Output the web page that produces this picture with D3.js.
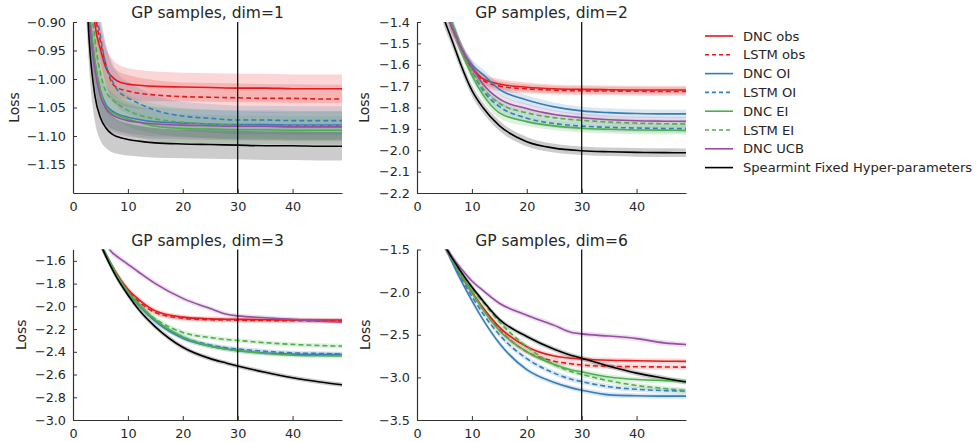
<!DOCTYPE html>
<html><head><meta charset="utf-8">
<script src="https://cdn.jsdelivr.net/npm/d3@7"></script>
<style>
body{margin:0;background:#fff;}
text{font-family:"DejaVu Sans",sans-serif;}
</style></head>
<body><svg id="chart" width="976" height="442"></svg>
<script>
// ---------- data ----------
const seriesNames = ["DNC obs","LSTM obs","DNC OI","LSTM OI","DNC EI","LSTM EI","DNC UCB","Spearmint Fixed Hyper-parameters"];
const seriesColors = ["#e41a1c","#e41a1c","#377eb8","#377eb8","#4daf4a","#4daf4a","#984ea3","#000000"];
const seriesDashed = [false,true,false,true,false,true,false,false];
const panelTitles = ["GP samples, dim=1","GP samples, dim=2","GP samples, dim=3","GP samples, dim=6"];
const xTicks = [0,10,20,30,40];
const yTicks1 = [-0.90,-0.95,-1.00,-1.05,-1.10,-1.15];
const yTicks2 = [-1.4,-1.5,-1.6,-1.7,-1.8,-1.9,-2.0,-2.1,-2.2];
const yTicks3 = [-1.6,-1.8,-2.0,-2.2,-2.4,-2.6,-2.8,-3.0];
const yTicks4 = [-1.5,-2.0,-2.5,-3.0,-3.5];
const cutoffX = 30;

// dim=1
const xs1 = [2,3,4,5,6,7,8,10,12,15,20,25,30,35,40,45,49];
const d1_dncObs   = [-0.60,-0.80,-0.905,-0.948,-0.981,-0.995,-1.003,-1.009,-1.011,-1.013,-1.014,-1.015,-1.016,-1.016,-1.017,-1.017,-1.017];
const d1_lstmObs  = [-0.55,-0.75,-0.88,-0.935,-0.975,-1.005,-1.015,-1.021,-1.025,-1.028,-1.031,-1.032,-1.033,-1.034,-1.034,-1.035,-1.035];
const d1_dncOI    = [-0.70,-0.88,-0.97,-1.02,-1.045,-1.055,-1.061,-1.067,-1.071,-1.075,-1.077,-1.079,-1.080,-1.080,-1.081,-1.081,-1.081];
const d1_lstmOI   = [-0.50,-0.70,-0.86,-0.925,-0.975,-1.000,-1.018,-1.033,-1.043,-1.055,-1.065,-1.069,-1.072,-1.072,-1.073,-1.073,-1.073];
const d1_dncEI    = [-0.70,-0.88,-0.97,-1.02,-1.050,-1.058,-1.063,-1.070,-1.076,-1.083,-1.087,-1.088,-1.089,-1.089,-1.090,-1.090,-1.090];
const d1_lstmEI   = [-0.65,-0.83,-0.93,-0.99,-1.022,-1.035,-1.043,-1.055,-1.063,-1.070,-1.076,-1.079,-1.081,-1.082,-1.082,-1.082,-1.082];
const d1_dncUCB   = [-0.72,-0.90,-0.985,-1.030,-1.052,-1.062,-1.067,-1.073,-1.076,-1.079,-1.081,-1.082,-1.083,-1.083,-1.084,-1.084,-1.084];
const d1_spear    = [-0.75,-0.94,-1.030,-1.068,-1.086,-1.096,-1.101,-1.106,-1.109,-1.112,-1.114,-1.115,-1.116,-1.117,-1.117,-1.118,-1.118];
const band1       = [0.06,0.05,0.045,0.04,0.035,0.032,0.03,0.028,0.027,0.026,0.025,0.025,0.025,0.025,0.025,0.025,0.025];

// dim=2
const xs2 = [4,5,6,7,8,10,12,15,20,25,30,35,40,45,49];
const d2_dncObs   = [-1.20,-1.30,-1.395,-1.46,-1.52,-1.61,-1.665,-1.69,-1.705,-1.712,-1.715,-1.717,-1.718,-1.718,-1.718];
const d2_lstmObs  = [-1.20,-1.30,-1.40,-1.465,-1.525,-1.615,-1.672,-1.700,-1.713,-1.719,-1.722,-1.723,-1.724,-1.725,-1.725];
const d2_dncOI    = [-1.22,-1.31,-1.40,-1.46,-1.52,-1.60,-1.645,-1.715,-1.765,-1.797,-1.816,-1.824,-1.828,-1.830,-1.830];
const d2_lstmOI   = [-1.18,-1.28,-1.38,-1.45,-1.52,-1.63,-1.72,-1.795,-1.85,-1.875,-1.887,-1.893,-1.896,-1.898,-1.899];
const d2_dncEI    = [-1.18,-1.28,-1.38,-1.455,-1.53,-1.65,-1.74,-1.825,-1.866,-1.886,-1.897,-1.902,-1.905,-1.906,-1.907];
const d2_lstmEI   = [-1.18,-1.28,-1.38,-1.45,-1.52,-1.63,-1.71,-1.78,-1.825,-1.848,-1.860,-1.868,-1.873,-1.876,-1.877];
const d2_dncUCB   = [-1.22,-1.31,-1.40,-1.46,-1.52,-1.61,-1.69,-1.76,-1.805,-1.833,-1.848,-1.857,-1.862,-1.864,-1.865];
const d2_spear    = [-1.30,-1.39,-1.46,-1.53,-1.60,-1.72,-1.80,-1.885,-1.96,-1.99,-2.002,-2.007,-2.010,-2.011,-2.012];
const band2       = [0.04,0.035,0.032,0.03,0.028,0.026,0.025,0.024,0.022,0.02,0.02,0.02,0.02,0.02,0.02];

// dim=3
const xs3 = [4,5,6,7,8,10,12,15,20,25,28,30,35,40,45,49];
const d3_dncObs   = [-1.33,-1.45,-1.55,-1.64,-1.72,-1.85,-1.94,-2.04,-2.095,-2.11,-2.113,-2.115,-2.118,-2.12,-2.12,-2.12];
const d3_lstmObs  = [-1.33,-1.45,-1.55,-1.64,-1.72,-1.86,-1.96,-2.055,-2.105,-2.118,-2.12,-2.122,-2.125,-2.127,-2.128,-2.13];
const d3_dncOI    = [-1.33,-1.45,-1.55,-1.645,-1.73,-1.88,-1.99,-2.13,-2.28,-2.35,-2.375,-2.39,-2.41,-2.42,-2.425,-2.425];
const d3_lstmOI   = [-1.33,-1.45,-1.55,-1.645,-1.73,-1.88,-1.99,-2.13,-2.27,-2.34,-2.365,-2.375,-2.395,-2.41,-2.415,-2.42];
const d3_dncEI    = [-1.33,-1.45,-1.55,-1.64,-1.725,-1.87,-1.98,-2.12,-2.27,-2.35,-2.378,-2.39,-2.415,-2.43,-2.435,-2.437];
const d3_lstmEI   = [-1.33,-1.45,-1.55,-1.64,-1.73,-1.87,-1.99,-2.11,-2.23,-2.275,-2.292,-2.30,-2.32,-2.335,-2.345,-2.35];
const d3_dncUCB   = [-1.30,-1.38,-1.45,-1.52,-1.56,-1.63,-1.70,-1.80,-1.93,-2.02,-2.07,-2.084,-2.10,-2.115,-2.13,-2.14];
const d3_spear    = [-1.33,-1.45,-1.56,-1.66,-1.75,-1.90,-2.03,-2.18,-2.36,-2.46,-2.50,-2.525,-2.58,-2.628,-2.665,-2.69];
const band3       = [0.04,0.035,0.03,0.03,0.028,0.025,0.025,0.024,0.022,0.02,0.02,0.02,0.02,0.02,0.02,0.02];

// dim=6
const xs4 = [4,5,6,7,8,10,12,15,20,25,28,30,35,40,45,49];
const d4_dncObs   = [-1.33,-1.45,-1.57,-1.69,-1.80,-2.00,-2.18,-2.41,-2.64,-2.75,-2.775,-2.785,-2.80,-2.805,-2.81,-2.812];
const d4_lstmObs  = [-1.33,-1.45,-1.57,-1.69,-1.80,-2.00,-2.20,-2.44,-2.70,-2.81,-2.84,-2.855,-2.87,-2.875,-2.878,-2.88];
const d4_dncOI    = [-1.33,-1.45,-1.59,-1.73,-1.86,-2.10,-2.32,-2.60,-2.91,-3.06,-3.12,-3.15,-3.205,-3.215,-3.22,-3.22];
const d4_lstmOI   = [-1.33,-1.45,-1.58,-1.71,-1.83,-2.05,-2.25,-2.50,-2.78,-2.95,-3.02,-3.05,-3.11,-3.14,-3.155,-3.16];
const d4_dncEI    = [-1.33,-1.45,-1.57,-1.69,-1.80,-2.00,-2.20,-2.45,-2.70,-2.85,-2.91,-2.935,-2.995,-3.025,-3.038,-3.043];
const d4_lstmEI   = [-1.33,-1.45,-1.56,-1.67,-1.77,-1.96,-2.12,-2.35,-2.64,-2.85,-2.93,-2.965,-3.04,-3.095,-3.13,-3.155];
const d4_dncUCB   = [-1.33,-1.44,-1.55,-1.64,-1.72,-1.87,-1.98,-2.13,-2.27,-2.39,-2.47,-2.49,-2.515,-2.545,-2.595,-2.615];
const d4_spear    = [-1.33,-1.45,-1.56,-1.66,-1.76,-1.94,-2.10,-2.32,-2.52,-2.67,-2.74,-2.775,-2.87,-2.95,-3.01,-3.055];
const band4       = [0.05,0.045,0.04,0.04,0.035,0.035,0.03,0.03,0.03,0.03,0.03,0.03,0.03,0.03,0.03,0.03];

// ---------- panels ----------
const panels = [
  {title:panelTitles[0], xs:xs1, band:band1, yDomain:[-1.2,-0.9], yTicks:yTicks1, fmt:".2f",
   series:[d1_dncObs,d1_lstmObs,d1_dncOI,d1_lstmOI,d1_dncEI,d1_lstmEI,d1_dncUCB,d1_spear],
   box:{l:73,r:342,t:22,b:193}, ylabX:14},
  {title:panelTitles[1], xs:xs2, band:band2, yDomain:[-2.2,-1.4], yTicks:yTicks2, fmt:".1f",
   series:[d2_dncObs,d2_lstmObs,d2_dncOI,d2_lstmOI,d2_dncEI,d2_lstmEI,d2_dncUCB,d2_spear],
   box:{l:417,r:686,t:22,b:193}, ylabX:364},
  {title:panelTitles[2], xs:xs3, band:band3, yDomain:[-3.0,-1.5], yTicks:yTicks3, fmt:".1f",
   series:[d3_dncObs,d3_lstmObs,d3_dncOI,d3_lstmOI,d3_dncEI,d3_lstmEI,d3_dncUCB,d3_spear],
   box:{l:73,r:342,t:249.5,b:420}, ylabX:21},
  {title:panelTitles[3], xs:xs4, band:band4, yDomain:[-3.5,-1.5], yTicks:yTicks4, fmt:".1f",
   series:[d4_dncObs,d4_lstmObs,d4_dncOI,d4_lstmOI,d4_dncEI,d4_lstmEI,d4_dncUCB,d4_spear],
   box:{l:417,r:686,t:249.5,b:420}, ylabX:365}
];

const svg = d3.select("#chart");
const defs = svg.append("defs");
const minus = s => s.replace("-", "\u2212");
const axisColor = "#333";
const textColor = "#262626";

panels.forEach((p, pi) => {
  const x = d3.scaleLinear().domain([0,49]).range([p.box.l, p.box.r]);
  const y = d3.scaleLinear().domain(p.yDomain).range([p.box.b, p.box.t]);
  const clipId = "clip"+pi;
  defs.append("clipPath").attr("id", clipId).append("rect")
    .attr("x", p.box.l).attr("y", p.box.t)
    .attr("width", p.box.r - p.box.l).attr("height", p.box.b - p.box.t);

  const g = svg.append("g");
  const plot = g.append("g").attr("clip-path", `url(#${clipId})`);

  const area = d3.area().curve(d3.curveMonotoneX)
    .x(d => x(d.x)).y0(d => y(d.y - d.s)).y1(d => y(d.y + d.s));
  const line = d3.line().curve(d3.curveMonotoneX).x(d => x(d.x)).y(d => y(d.y));

  p.series.forEach((vals, si) => {
    const pts = vals.map((v, i) => ({x: p.xs[i], y: v, s: p.band[i]}));
    plot.append("path").attr("d", area(pts))
      .attr("fill", seriesColors[si]).attr("fill-opacity", si === 7 ? 0.2 : 0.18).attr("stroke", "none");
  });
  p.series.forEach((vals, si) => {
    const pts = vals.map((v, i) => ({x: p.xs[i], y: v}));
    plot.append("path").attr("d", line(pts))
      .attr("fill", "none").attr("stroke", seriesColors[si]).attr("stroke-width", 1.6)
      .attr("stroke-dasharray", seriesDashed[si] ? "5,3" : null);
  });

  // cutoff line
  g.append("line").attr("x1", x(cutoffX)).attr("x2", x(cutoffX))
    .attr("y1", p.box.t).attr("y2", p.box.b).attr("stroke", "#000").attr("stroke-width", 1.2);

  // axes
  const xAxis = d3.axisBottom(x).tickValues(xTicks).tickSizeInner(-4).tickSizeOuter(0).tickPadding(9);
  const gx = g.append("g").attr("transform", `translate(0,${p.box.b})`).call(xAxis);
  const yAxis = d3.axisLeft(y).tickValues(p.yTicks).tickSizeInner(-4).tickSizeOuter(0).tickPadding(7)
    .tickFormat(d => minus(d3.format(p.fmt)(d)));
  const gy = g.append("g").attr("transform", `translate(${p.box.l},0)`).call(yAxis);
  [gx, gy].forEach(a => {
    a.select(".domain").attr("stroke", axisColor).attr("stroke-width", 1.2);
    a.selectAll(".tick line").attr("stroke", axisColor);
    a.selectAll(".tick text").attr("fill", textColor).style("font-size", "12.8px")
      .style("font-family", "'DejaVu Sans', sans-serif");
  });

  // title
  g.append("text").attr("x", (p.box.l + p.box.r) / 2).attr("y", p.box.t - 4)
    .attr("text-anchor", "middle").attr("fill", textColor).style("font-size", "15.5px").text(p.title);
  // y label
  g.append("text").attr("transform", `translate(${p.ylabX + 5},${(p.box.t + p.box.b) / 2}) rotate(-90)`)
    .attr("text-anchor", "middle").attr("fill", textColor).style("font-size", "14px").text("Loss");
});

// legend
const leg = svg.append("g");
seriesNames.forEach((name, i) => {
  const cy = 36 + i * 18.8;
  leg.append("line").attr("x1", 705).attr("x2", 733).attr("y1", cy).attr("y2", cy)
    .attr("stroke", seriesColors[i]).attr("stroke-width", 1.6)
    .attr("stroke-dasharray", seriesDashed[i] ? "4,3" : null);
  leg.append("text").attr("x", 743).attr("y", cy).attr("dy", "0.35em")
    .attr("fill", textColor).style("font-size", "13.1px").text(name);
});
</script>
</body></html>
